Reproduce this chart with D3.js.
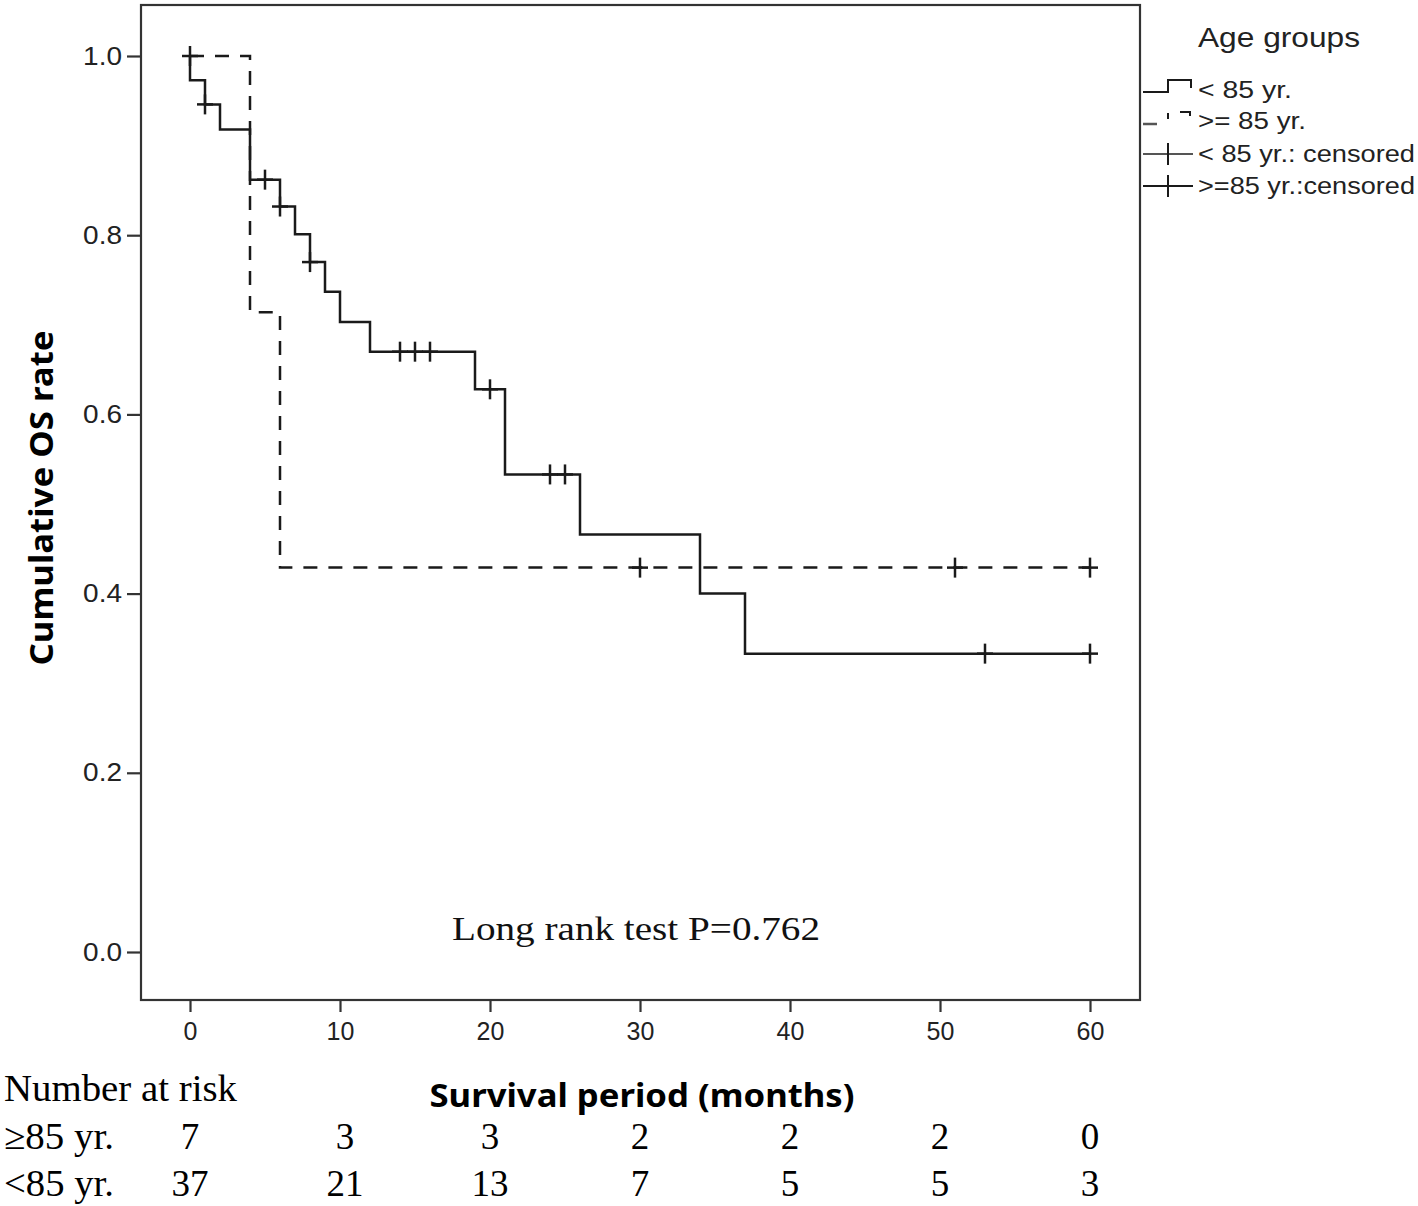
<!DOCTYPE html>
<html>
<head>
<meta charset="utf-8">
<script src="https://cdn.jsdelivr.net/npm/d3@7/dist/d3.min.js"></script>
<style>
  html, body { margin: 0; padding: 0; background: #fff; }
  svg { display: block; }
</style>
</head>
<body>
<svg id="chart" width="1418" height="1206"></svg>
<script>
// ---- Data ----
const xTicks = [0, 10, 20, 30, 40, 50, 60];
const yTicks = [0.0, 0.2, 0.4, 0.6, 0.8, 1.0];

// < 85 yr. Kaplan-Meier step curve (time in months, survival after step)
const under85Times = [0, 0, 1, 2, 4, 6, 7, 8, 9, 10, 12, 19, 21, 26, 34, 37, 60];
const under85Surv  = [1.0, 0.973, 0.946, 0.918, 0.862, 0.832, 0.801, 0.770, 0.737, 0.703, 0.670, 0.628, 0.533, 0.466, 0.400, 0.333, 0.333];
const under85Censored = [0, 1, 5, 6, 8, 14, 15, 16, 20, 24, 25, 53, 60];

// >= 85 yr.
const over85Times = [0, 4, 6, 60];
const over85Surv  = [1.0, 0.714, 0.429, 0.429];
const over85Censored = [30, 51, 60];

// Number at risk table
const riskRowLabels = ["\u226585 yr.", "<85 yr."];
const riskOver85  = [7, 3, 3, 2, 2, 2, 0];
const riskUnder85 = [37, 21, 13, 7, 5, 5, 3];

const legendTitle = "Age groups";
const legendLabels = ["< 85 yr.", ">= 85 yr.", "< 85 yr.: censored", ">=85 yr.:censored"];

// ---- Layout ----
const svg = d3.select("#chart");
const frame = { left: 141, top: 5, right: 1140, bottom: 1000 };
const ink = "#1a1a1a";
const sans = "'Liberation Sans', Arial, sans-serif";
const serif = "'Liberation Serif', 'Times New Roman', serif";

const x = d3.scaleLinear().domain([0, 60]).range([190, 1090]);
const y = d3.scaleLinear().domain([0, 1]).range([952, 56]);

// frame
svg.append("rect")
  .attr("x", frame.left).attr("y", frame.top)
  .attr("width", frame.right - frame.left).attr("height", frame.bottom - frame.top)
  .attr("fill", "none").attr("stroke", "#333").attr("stroke-width", 2.2);

// axes
const yAxis = svg.append("g")
  .attr("transform", `translate(${frame.left},0)`)
  .call(d3.axisLeft(y).tickValues(yTicks).tickFormat(d3.format(".1f")).tickSize(14).tickPadding(4));
const xAxis = svg.append("g")
  .attr("transform", `translate(0,${frame.bottom})`)
  .call(d3.axisBottom(x).tickValues(xTicks).tickFormat(d3.format("d")).tickSize(12).tickPadding(10));
[yAxis, xAxis].forEach(g => {
  g.select(".domain").remove();
  g.selectAll(".tick line").attr("stroke", "#333").attr("stroke-width", 2.2);
  g.selectAll(".tick text").attr("fill", "#222").style("font-family", sans).style("font-size", "25px");
});
yAxis.selectAll(".tick text").attr("transform", "scale(1.12,1)").attr("x", -19 / 1.12);
xAxis.selectAll(".tick text").attr("y", 22).attr("dy", "0.71em");

// curves
const line = d3.line().x((d) => x(d[0])).y((d) => y(d[1])).curve(d3.curveStepAfter);
const under85Pts = under85Times.map((t, i) => [t, under85Surv[i]]);
const over85Pts = over85Times.map((t, i) => [t, over85Surv[i]]);

svg.append("path").datum(over85Pts).attr("d", line)
  .attr("fill", "none").attr("stroke", ink).attr("stroke-width", 2.5)
  .attr("stroke-dasharray", "14,11");
svg.append("path").datum(under85Pts).attr("d", line)
  .attr("fill", "none").attr("stroke", ink).attr("stroke-width", 2.5);

function survAt(times, surv, t) {
  let v = surv[0];
  for (let i = 0; i < times.length; i++) if (times[i] <= t) v = surv[i];
  return v;
}
function cross(g, cx, cy) {
  g.append("line").attr("x1", cx - 8).attr("x2", cx + 8).attr("y1", cy).attr("y2", cy)
    .attr("stroke", ink).attr("stroke-width", 2.5);
  g.append("line").attr("x1", cx).attr("x2", cx).attr("y1", cy - 10).attr("y2", cy + 10)
    .attr("stroke", ink).attr("stroke-width", 2.5);
}
const marks = svg.append("g");
under85Censored.forEach(t => cross(marks, x(t), y(survAt(under85Times, under85Surv, t === 0 ? -1 : t))));
over85Censored.forEach(t => cross(marks, x(t), y(survAt(over85Times, over85Surv, t))));

// annotation
svg.append("text").attr("x", 636).attr("y", 940).attr("text-anchor", "middle")
  .style("font-family", serif).style("font-size", "34px").attr("fill", "#111")
  .attr("textLength", 368).attr("lengthAdjust", "spacingAndGlyphs")
  .text("Long rank test P=0.762");

// axis titles
svg.append("text").attr("transform", "translate(53,498) rotate(-90)")
  .attr("text-anchor", "middle")
  .style("font-family", "'Noto Sans', 'Open Sans', sans-serif").style("font-weight", "bold").style("font-size", "33px")
  .attr("textLength", 335).attr("lengthAdjust", "spacingAndGlyphs")
  .attr("fill", "#000").text("Cumulative OS rate");
svg.append("text").attr("x", 642).attr("y", 1107).attr("text-anchor", "middle")
  .style("font-family", "'Noto Sans', 'Open Sans', sans-serif").style("font-weight", "bold").style("font-size", "33px")
  .attr("textLength", 425).attr("lengthAdjust", "spacingAndGlyphs")
  .attr("fill", "#000").text("Survival period (months)");

// legend
const lg = svg.append("g");
lg.append("text").attr("x", 1198).attr("y", 47)
  .style("font-family", sans).style("font-size", "27px").attr("fill", "#222")
  .attr("textLength", 162).attr("lengthAdjust", "spacingAndGlyphs").text(legendTitle);
const rowY = [90, 121, 154, 186];
const legWidths = [94, 108, 217, 217];
legendLabels.forEach((lab, i) => {
  lg.append("text").attr("x", 1198).attr("y", rowY[i] + 8)
    .style("font-family", sans).style("font-size", "23px").attr("fill", "#222")
    .attr("textLength", legWidths[i]).attr("lengthAdjust", "spacingAndGlyphs").text(lab);
});
// legend symbols
lg.append("path").attr("d", `M1143,${rowY[0] + 2} H1168 V${rowY[0] - 10} H1191 V${rowY[0] - 2}`)
  .attr("fill", "none").attr("stroke", ink).attr("stroke-width", 2);
lg.append("path").attr("d", `M1143,${rowY[1] + 3} H1157`)
  .attr("fill", "none").attr("stroke", "#555").attr("stroke-width", 2.5);
lg.append("path").attr("d", `M1168,${rowY[1] - 2} V${rowY[1] - 8}`)
  .attr("fill", "none").attr("stroke", ink).attr("stroke-width", 2);
lg.append("path").attr("d", `M1180,${rowY[1] - 9} H1190 V${rowY[1] - 5}`)
  .attr("fill", "none").attr("stroke", ink).attr("stroke-width", 2);
[2, 3].forEach(i => {
  lg.append("line").attr("x1", 1143).attr("x2", 1193).attr("y1", rowY[i]).attr("y2", rowY[i])
    .attr("stroke", i === 2 ? "#555" : ink).attr("stroke-width", 2);
  lg.append("line").attr("x1", 1168).attr("x2", 1168).attr("y1", rowY[i] - 11).attr("y2", rowY[i] + 11)
    .attr("stroke", ink).attr("stroke-width", 2);
});

// number at risk table
svg.append("text").attr("x", 4).attr("y", 1101)
  .style("font-family", serif).style("font-size", "37px").attr("fill", "#000")
  .attr("textLength", 233).attr("lengthAdjust", "spacingAndGlyphs").text("Number at risk");
const rowBase = [1149, 1196];
riskRowLabels.forEach((lab, i) => {
  svg.append("text").attr("x", 4).attr("y", rowBase[i])
    .style("font-family", serif).style("font-size", "37px").attr("fill", "#000")
    .attr("textLength", 110).attr("lengthAdjust", "spacingAndGlyphs").text(lab);
});
[riskOver85, riskUnder85].forEach((arr, i) => {
  svg.append("g").selectAll("text").data(arr).join("text")
    .attr("x", (d, j) => x(xTicks[j]) + (j === 1 ? 5 : 0))
    .attr("y", rowBase[i]).attr("text-anchor", "middle")
    .style("font-family", serif).style("font-size", "37px").attr("fill", "#000")
    .text(d => d);
});
</script>
</body>
</html>
